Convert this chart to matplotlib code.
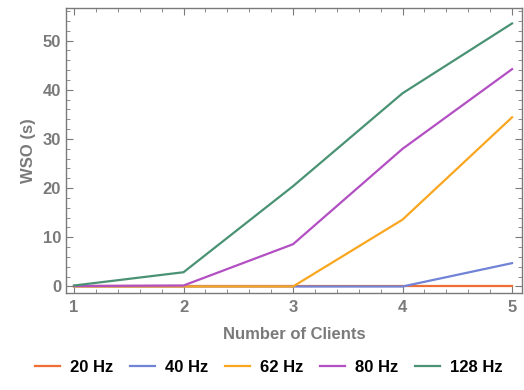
import numpy as np
import matplotlib
matplotlib.use("Agg")
import matplotlib.pyplot as plt
from matplotlib.ticker import MultipleLocator

plt.rcParams['font.family'] = ['Liberation Sans', 'DejaVu Sans']
plt.rcParams['font.weight'] = 'bold'
plt.rcParams['axes.labelweight'] = 'bold'

clients = [1, 2, 3, 4, 5]
labels = ['20 Hz', '40 Hz', '62 Hz', '80 Hz', '128 Hz']
wso_20 = [0.0, 0.0, 0.0, 0.0, 0.0]
wso_40 = [0.0, 0.0, 0.0, 0.0, 4.75]
wso_62 = [0.0, 0.0, 0.0, 13.6, 34.4]
wso_80 = [0.1, 0.2, 8.6, 28.0, 44.2]
wso_128 = [0.2, 2.9, 20.4, 39.3, 53.5]
colors = ['#ee6e35', '#7183d6', '#f9a620', '#b24fc2', '#4a9274']

gray = '#7a7a7a'

fig = plt.figure(figsize=(5.24, 3.9), dpi=100)
ax = fig.add_axes([0.126, 0.249, 0.87, 0.730])

series = [wso_20, wso_40, wso_62, wso_80, wso_128]
for vals, lab, c in zip(series, labels, colors):
    ax.plot(clients, vals, color=c, lw=1.6, label=lab)

ax.set_xlim(0.927, 5.09)
ax.set_ylim(-1.3, 56.6)
ax.xaxis.set_major_locator(MultipleLocator(1))
ax.xaxis.set_minor_locator(MultipleLocator(0.2))
ax.yaxis.set_major_locator(MultipleLocator(10))
ax.yaxis.set_minor_locator(MultipleLocator(2))
ax.tick_params(which='both', direction='in', top=True, right=True, color=gray,
               labelcolor=gray, labelsize=12)
ax.tick_params(which='major', length=5, width=0.8)
ax.tick_params(which='minor', length=3, width=0.6)
ax.tick_params(axis='x', pad=5)
for lbl in ax.get_xticklabels() + ax.get_yticklabels():
    lbl.set_fontweight('bold')
for s in ax.spines.values():
    s.set_color(gray)
    s.set_linewidth(1.0)

ax.set_xlabel('Number of Clients', color=gray, fontsize=12, fontweight='bold', labelpad=9)
ax.set_ylabel('WSO (s)', color=gray, fontsize=12, fontweight='bold', labelpad=5)

leg = fig.legend(loc='lower center', bbox_to_anchor=(0.513, 0.0), ncol=5, frameon=False,
                 prop={'size': 12, 'weight': 'bold'}, handlelength=1.5,
                 columnspacing=1.0, handletextpad=0.6)

fig.savefig('out.png', dpi=100)
